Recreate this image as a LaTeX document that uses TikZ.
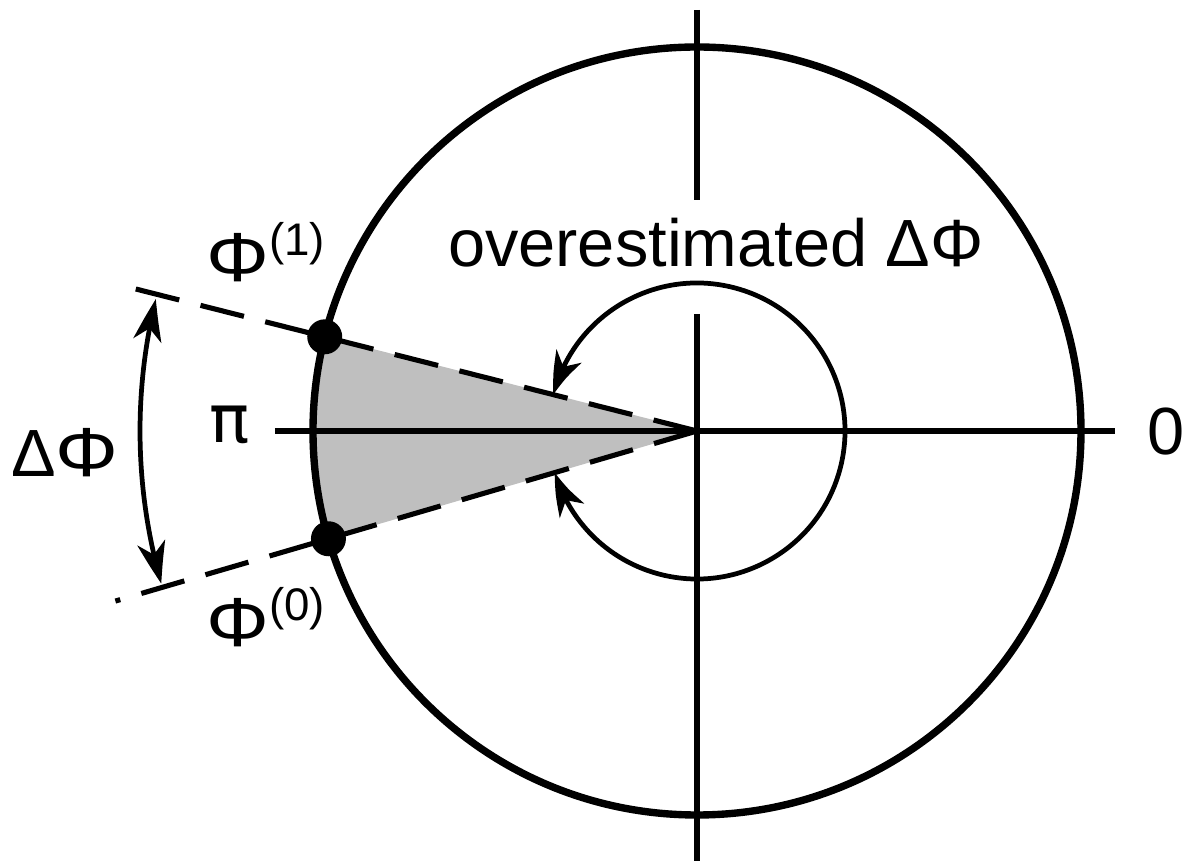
\documentclass[tikz,border=0pt]{standalone}
\usepackage{fontspec}
\usepackage{graphicx}
\setmainfont{Liberation Sans}
\newfontfamily\djv{DejaVu Sans}
\usetikzlibrary{arrows.meta,bending}
\definecolor{fillgray}{RGB}{191,191,191}
\newcommand{\wphi}{\scalebox{1.18}[1.04]{Φ}}
\begin{document}
\begin{tikzpicture}[x=0.02cm,y=0.02cm,
  axis/.style={line width=2.9pt},
  rim/.style={line width=4.2pt},
  ray/.style={line width=2.9pt, dash pattern=on 25.5pt off 12.5pt},
  harr/.style={line width=2.7pt, {Stealth[length=24pt,width=16pt,inset=7pt,bend]}-{Stealth[length=24pt,width=16pt,inset=7pt,bend]}},
  lbl/.style={font=\fontsize{38}{40}\selectfont, inner sep=0pt},
  dot/.style={circle, fill=black, inner sep=0pt, minimum size=0.7cm},
]
\useasboundingbox (-697,-430) rectangle (490,431);
\coordinate (O) at (0,0);
\coordinate (P1) at (165.8:384);
\coordinate (P0) at (196.3:384);
\fill[fillgray] (O) -- (P1) arc[start angle=165.8,end angle=196.3,radius=384] -- cycle;
\draw[axis] (0,421) -- (0,231);
\draw[axis] (0,117) -- (0,-430);
\draw[axis] (-422,0) -- (418,0);
\draw[rim] (O) circle[radius=384];
\coordinate (R1) at (165.8:582);
\coordinate (R0) at (196.3:606);
\draw[ray] (O) -- (R1);
\draw[ray] (O) -- (R0);
\node[dot] (d1) at (P1) {};
\node[dot] (d0) at (P0) {};
\draw[harr] (165.8:148) arc[start angle=165.8, end angle=-163.7, radius=148];
\draw[harr] (166.3:557) arc[start angle=166.3, end angle=195.9, radius=557];
\node[lbl, anchor=base] (over) at (19,164) {overestimated ΔΦ};
\node[lbl, anchor=base] (pi) at (-467,-12) {\djv π};
\node[lbl, anchor=base] (zero) at (469,-24) {0};
\node[lbl, anchor=base] (dphi) at (-632,-46) {Δ\wphi};
\node[lbl, anchor=base west] (phi1) at (-491,149) {\wphi\raisebox{15pt}{\fontsize{26}{26}\selectfont(1)}};
\node[lbl, anchor=base west] (phi0) at (-491,-216) {\wphi\raisebox{15pt}{\fontsize{26}{26}\selectfont(0)}};
\end{tikzpicture}
\end{document}
